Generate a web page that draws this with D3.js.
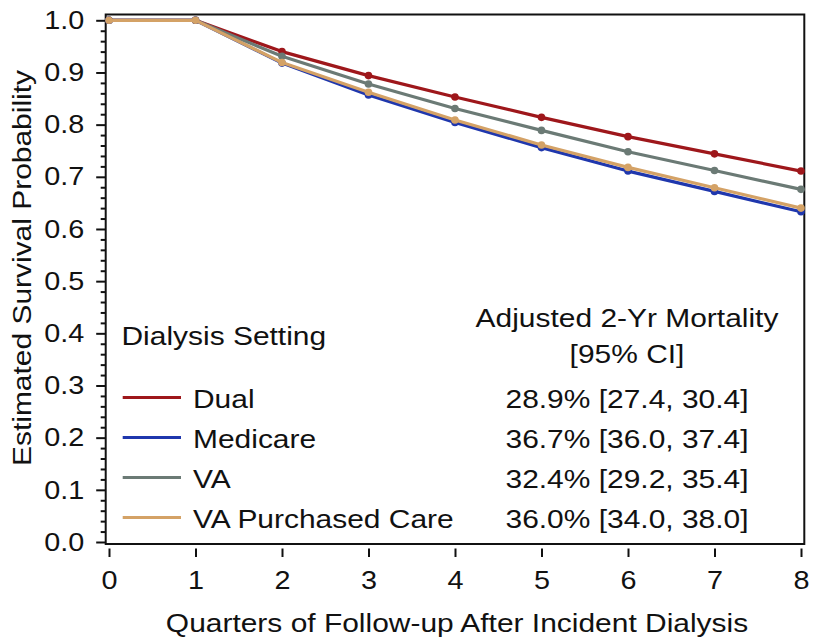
<!DOCTYPE html>
<html><head><meta charset="utf-8">
<script src="https://cdn.jsdelivr.net/npm/d3@7/dist/d3.min.js"></script>
<style>body{margin:0;background:#fff}svg{display:block}text{font-family:"Liberation Sans",Arial,Helvetica,sans-serif;fill:#111}</style>
</head><body><svg id="c" width="813" height="644"></svg>
<script>
const quarters = [0,1,2,3,4,5,6,7,8];
const seriesNames = ["Dual","Medicare","VA","VA Purchased Care"];
const dual     = [1,1,0.940,0.894,0.853,0.814,0.777,0.744,0.711];
const medicare = [1,1,0.918,0.857,0.804,0.756,0.711,0.672,0.633];
const va       = [1,1,0.931,0.878,0.831,0.789,0.748,0.712,0.676];
const vaPC     = [1,1,0.919,0.862,0.809,0.761,0.718,0.679,0.640];
const mortality = ["28.9% [27.4, 30.4]","36.7% [36.0, 37.4]","32.4% [29.2, 35.4]","36.0% [34.0, 38.0]"];
const yTicks = [0,0.1,0.2,0.3,0.4,0.5,0.6,0.7,0.8,0.9,1.0];
const xTicks = [0,1,2,3,4,5,6,7,8];

const colors = {"Dual":"#9e171b","Medicare":"#1f37ad","VA":"#6b7a75","VA Purchased Care":"#d4a266"};
const values = {"Dual":dual,"Medicare":medicare,"VA":va,"VA Purchased Care":vaPC};
const drawOrder = ["Dual","VA","Medicare","VA Purchased Care"];

const svg = d3.select("#c");
const FS = 26.5, SX = 1.13, TFS = 25.5;
const x = d3.scaleLinear().domain([0,8]).range([109,801]);
const y = d3.scaleLinear().domain([0,1]).range([542,20.3]);

function txt(px, py, s, anchor, size, rot){
  return svg.append("text")
    .attr("transform", `translate(${px},${py})` + (rot?` rotate(${rot})`:"") + ` scale(${SX},1)`)
    .attr("text-anchor", anchor||"start")
    .attr("font-size", size||FS)
    .text(s);
}

// frame
svg.append("rect").attr("x",105.7).attr("y",14.5).attr("width",804.3-105.7).attr("height",544-14.5)
  .attr("fill","none").attr("stroke","#111").attr("stroke-width",2);

// y axis major
const yMajor = svg.append("g").attr("transform","translate(105.7,0)")
  .call(d3.axisLeft(y).tickValues(yTicks).tickSize(9.5).tickFormat(d3.format(".1f")).tickPadding(12));
yMajor.select(".domain").remove();
yMajor.selectAll("line").attr("stroke","#111").attr("stroke-width",2);
yMajor.selectAll("text").each(function(){
  const t = d3.select(this); const xo = +t.attr("x");
  t.attr("x",0).attr("transform",`translate(${xo},0) scale(${SX},1)`).attr("font-size",TFS)
   .attr("font-family","Liberation Sans, Arial, sans-serif").attr("fill","#111");
});
// y minor ticks
const minor = d3.range(0,101,2).map(d=>d/100).filter(d=>Math.round(d*100)%10!==0);
const yMinor = svg.append("g").attr("transform","translate(105.7,0)")
  .call(d3.axisLeft(y).tickValues(minor).tickSize(5).tickFormat(""));
yMinor.select(".domain").remove();
yMinor.selectAll("line").attr("stroke","#111").attr("stroke-width",2);

// x axis
const xAxis = svg.append("g").attr("transform","translate(0,548.5)")
  .call(d3.axisBottom(x).tickValues(xTicks).tickSize(8.5).tickFormat(d3.format("d")).tickPadding(14));
xAxis.select(".domain").remove();
xAxis.selectAll("line").attr("stroke","#111").attr("stroke-width",2);
xAxis.selectAll("text").each(function(){
  d3.select(this).attr("transform",`scale(${SX},1)`).attr("font-size",TFS)
   .attr("font-family","Liberation Sans, Arial, sans-serif").attr("fill","#111");
});

// lines
const line = d3.line().x((d,i)=>x(quarters[i])).y(d=>y(d));
drawOrder.forEach(name=>{
  const g = svg.append("g");
  g.append("path").datum(values[name]).attr("d",line).attr("fill","none")
    .attr("stroke",colors[name]).attr("stroke-width",3.2).attr("stroke-linejoin","round");
  g.selectAll("circle").data(values[name]).join("circle")
    .attr("cx",(d,i)=>x(quarters[i])).attr("cy",d=>y(d)).attr("r",3.8).attr("fill",colors[name]);
});

// axis titles
txt(457, 632, "Quarters of Follow-up After Incident Dialysis", "middle");
txt(31, 268, "Estimated Survival Probability", "middle", FS, -90);

// legend
txt(121.5, 345, "Dialysis Setting", "start");
txt(627, 327, "Adjusted 2-Yr Mortality", "middle");
txt(627, 363, "[95% CI]", "middle");
seriesNames.forEach((name,i)=>{
  const base = 408 + i*40;
  svg.append("line").attr("x1",122.7).attr("x2",181).attr("y1",base-10.5).attr("y2",base-10.5)
    .attr("stroke",colors[name]).attr("stroke-width",3);
  txt(193, base, name, "start");
  txt(627, base, mortality[i], "middle");
});
</script></body></html>
